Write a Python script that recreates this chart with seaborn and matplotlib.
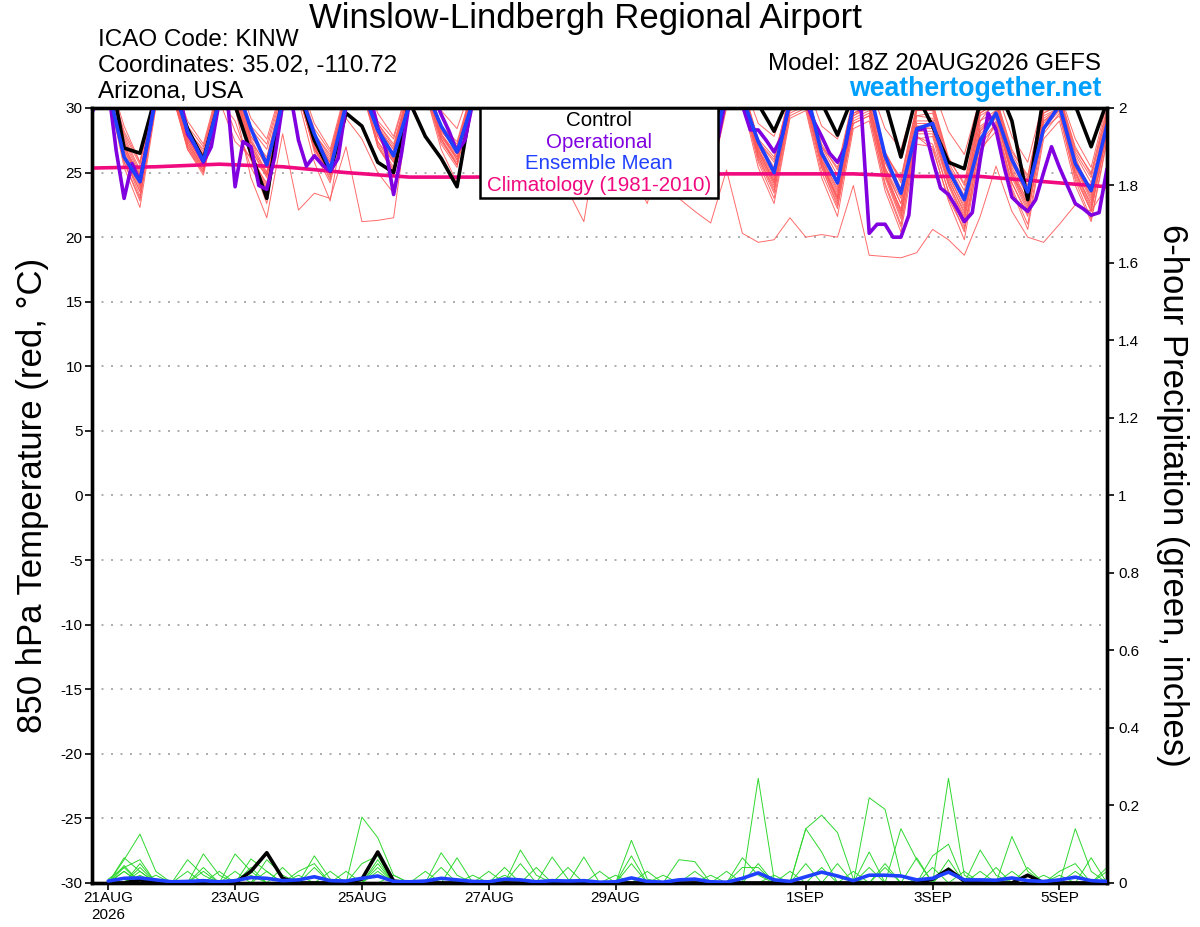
import numpy as np
import pandas as pd
import matplotlib
matplotlib.use("Agg")
import matplotlib.pyplot as plt
from matplotlib.patches import Rectangle
import seaborn as sns

# GEFS 18Z 20AUG2026 - KINW meteogram
# temperature at 6-hour steps: 18Z 20AUG ... 18Z 5SEP (65 values)
temp_mean = [30.2,
             31.5, 26.2, 24.3, 30.8,  32.0, 28.2, 25.9, 30.6,  32.0, 28.4, 25.6, 30.5,  31.5, 28.0, 25.2, 30.3,
             31.5, 28.3, 26.3, 30.3,  31.5, 28.6, 26.6, 30.5,  31.8, 28.4, 26.2, 30.6,  31.6, 28.0, 25.8, 30.4,
             31.8, 28.2, 26.2, 30.6,  31.6, 27.8, 26.0, 31.4,  30.8, 27.4, 25.0, 30.5,  31.5, 26.5, 24.2, 30.2,
             31.5, 26.3, 23.4, 28.4,  28.8, 25.2, 22.9, 27.5,  29.6, 26.0, 23.5, 28.4,  30.2, 25.7, 23.6, 28.7]

temp_control = [31.0,
                33.5, 26.9, 26.5, 31.0,  32.0, 28.4, 26.0, 30.5,  30.2, 26.5, 23.0, 31.0,  31.5, 27.5, 25.1, 29.6,
                28.6, 25.8, 25.0, 30.5,  27.8, 26.1, 23.9, 31.0,  32.0, 28.4, 26.4, 31.2,  32.0, 28.0, 26.0, 31.0,
                32.2, 28.6, 26.8, 31.4,  32.0, 28.2, 26.4, 32.0,  31.0, 30.3, 28.2, 31.0,  32.0, 30.4, 27.9, 31.0,
                32.0, 30.5, 26.2, 31.0,  28.6, 25.8, 25.3, 30.5,  32.0, 29.0, 22.9, 31.0,  32.0, 30.2, 27.0, 30.5]

# operational GFS at 3-hour steps (129 values)
temp_oper = [29.7,
             31.0, 31.6, 26.7, 23.0, 25.7, 24.3, 27.5, 31.0,
             32.0, 31.8, 31.0, 28.0, 27.0, 25.8, 27.0, 30.5,
             31.0, 23.9, 27.4, 27.0, 24.0, 23.7, 26.2, 30.3,
             31.0, 27.5, 25.5, 26.3, 25.6, 25.1, 26.1, 30.2,
             31.5, 31.8, 31.0, 28.5, 26.8, 23.3, 26.5, 30.5,
             31.8, 32.0, 31.0, 29.5, 28.2, 26.6, 27.5, 30.5,
             31.8, 32.0, 31.2, 29.0, 27.6, 26.0, 27.8, 31.0,
             32.0, 32.2, 31.0, 28.6, 27.2, 25.8, 27.6, 31.0,
             31.8, 32.0, 31.2, 29.0, 27.8, 26.4, 28.0, 31.2,
             32.0, 32.2, 31.0, 28.8, 27.4, 26.0, 27.8, 31.0,
             31.0, 30.2, 28.3, 28.3, 27.5, 26.6, 27.8, 30.5,
             31.0, 30.5, 29.0, 27.8, 26.5, 25.8, 27.0, 30.2,
             29.8, 20.3, 21.0, 21.0, 20.0, 20.0, 21.7, 28.3,
             28.4, 26.0, 23.8, 23.3, 22.3, 21.2, 21.9, 26.0,
             29.6, 28.3, 25.5, 23.1, 22.5, 22.0, 22.9, 25.0,
             27.0, 25.4, 24.0, 22.6, 22.2, 21.7, 21.9, 25.3]

# climatology, one value per day at 18Z
temp_clim = [25.35, 25.45, 25.65, 25.45, 25.0, 24.65, 24.65, 24.7, 24.75,
             24.8, 24.9, 24.9, 24.9, 24.7, 24.7, 24.3, 23.9]

# ensemble members
temp_members = [
    [31.0,
     32.1, 27.2, 24.0, 31.0,  32.0, 28.0, 26.2, 31.2,  32.3, 27.4, 25.0, 31.1,  31.8, 27.6, 25.4, 30.7,
     32.0, 28.4, 26.8, 31.3,  32.2, 28.6, 27.0, 31.5,  32.4, 28.2, 26.4, 31.2,  32.0, 28.0, 26.6, 31.0,
     32.2, 28.4, 26.8, 31.3,  32.0, 27.8, 26.0, 31.0,  31.6, 27.0, 25.2, 30.8,  31.4, 26.6, 24.0, 30.4,
     31.0, 25.8, 23.2, 29.4,  29.2, 25.4, 22.6, 29.0,  30.6, 26.0, 23.0, 30.2,  31.0, 26.2, 23.4, 29.2],
    [30.6,
     31.8, 26.4, 23.5, 30.6,  31.6, 27.6, 25.6, 30.8,  31.5, 26.8, 24.6, 30.5,  31.2, 27.0, 24.4, 30.4,
     31.8, 27.8, 25.8, 31.0,  31.6, 28.0, 26.2, 31.2,  32.0, 27.6, 25.8, 30.8,  31.6, 27.4, 25.6, 30.8,
     31.8, 27.6, 26.0, 31.0,  31.4, 27.0, 25.4, 30.6,  31.2, 26.8, 24.2, 30.0,  30.8, 26.0, 23.4, 30.2,
     30.4, 25.2, 22.0, 28.6,  28.4, 24.6, 21.8, 28.2,  29.8, 25.0, 22.4, 29.6,  30.4, 25.4, 22.8, 28.4],
    [31.5,
     32.6, 28.6, 25.8, 31.6,  32.5, 29.0, 27.2, 31.8,  32.6, 29.2, 27.6, 31.8,  32.4, 28.8, 26.8, 31.5,
     32.8, 29.6, 27.8, 32.0,  32.6, 29.8, 28.4, 32.0,  32.8, 29.4, 27.8, 31.8,  32.6, 29.2, 27.6, 31.8,
     32.8, 29.4, 27.8, 32.0,  32.4, 29.0, 27.6, 31.6,  32.2, 28.8, 27.8, 31.6,  32.0, 28.6, 27.6, 31.4,
     31.8, 28.4, 26.8, 31.0,  31.6, 28.2, 26.4, 30.8,  31.4, 27.8, 25.8, 30.6,  31.2, 27.6, 25.4, 30.4],
    [30.8,
     31.6, 25.8, 22.8, 30.4,  31.8, 27.2, 25.2, 30.6,  29.0, 25.4, 23.2, 30.2,  31.4, 27.4, 25.8, 30.8,
     31.6, 27.2, 25.2, 30.6,  31.8, 28.0, 26.4, 31.0,  32.0, 27.8, 26.0, 31.0,  31.8, 27.6, 25.8, 30.8,
     32.0, 27.8, 26.2, 31.2,  31.6, 27.2, 25.6, 30.8,  31.0, 26.2, 23.8, 29.8,  30.6, 25.6, 22.8, 29.2,
     29.8, 24.8, 21.6, 28.0,  28.0, 24.0, 21.2, 27.6,  29.4, 24.6, 22.0, 28.8,  30.2, 25.0, 22.2, 28.0],
    [30.4,
     31.4, 26.0, 23.6, 30.2,  31.2, 27.0, 25.0, 30.4,  30.0, 24.6, 21.5, 28.0,  22.1, 23.4, 23.0, 27.0,
     21.2, 21.3, 21.5, 30.4,  31.8, 27.6, 25.6, 31.0,  31.6, 27.4, 25.8, 30.8,  31.8, 27.8, 26.2, 31.0,
     31.6, 27.2, 25.4, 30.6,  31.4, 27.0, 25.8, 30.8,  31.2, 26.8, 24.8, 30.2,  31.0, 26.2, 23.6, 29.6,
     30.2, 25.4, 22.6, 28.8,  28.8, 24.8, 22.2, 28.4,  29.6, 25.2, 22.8, 29.2,  30.0, 25.6, 23.0, 28.8],
    [30.8,
     31.8, 27.0, 24.8, 31.0,  31.8, 27.8, 25.8, 31.0,  32.0, 27.6, 25.4, 31.0,  31.6, 27.6, 25.6, 30.8,
     32.0, 28.2, 26.4, 31.2,  31.8, 28.0, 26.0, 31.0,  31.6, 26.4, 24.0, 30.2,  29.8, 23.6, 21.2, 28.6,
     30.4, 25.0, 22.6, 27.4,  23.0, 22.0, 21.1, 25.2,  20.3, 19.6, 19.8, 21.5,  20.0, 20.2, 20.0, 24.0,
     18.6, 18.5, 18.4, 18.8,  20.6, 19.8, 18.6, 21.6,  25.5, 22.0, 20.0, 19.6,  21.0, 22.5, 22.0, 24.0],
    [31.2,
     32.0, 27.8, 25.2, 31.2,  32.2, 28.4, 26.6, 31.4,  28.2, 26.0, 24.2, 30.8,  31.8, 28.0, 26.2, 31.0,
     32.2, 28.8, 27.2, 31.6,  32.0, 28.4, 26.8, 31.4,  32.2, 28.0, 26.2, 31.2,  32.0, 27.8, 26.2, 31.0,
     32.2, 28.2, 26.6, 31.2,  31.8, 27.4, 25.6, 30.8,  31.4, 26.8, 24.6, 30.4,  31.0, 26.0, 23.8, 30.0,
     30.6, 25.4, 23.0, 29.4,  29.6, 25.0, 22.8, 29.4,  30.2, 25.6, 23.6, 29.8,  30.6, 25.8, 23.8, 29.0],
    [30.2,
     31.2, 25.4, 22.3, 30.0,  31.4, 26.8, 24.8, 30.4,  31.2, 26.4, 24.0, 30.2,  31.0, 26.8, 24.6, 30.4,
     31.4, 27.0, 25.0, 30.6,  31.2, 27.2, 25.4, 30.8,  31.4, 27.0, 25.2, 30.6,  31.2, 26.8, 25.0, 30.4,
     31.4, 27.0, 25.4, 30.6,  31.0, 26.4, 24.6, 30.2,  30.6, 25.8, 23.0, 29.4,  30.0, 25.0, 22.2, 28.8,
     29.4, 24.0, 20.8, 27.6,  27.8, 23.4, 20.4, 27.4,  28.8, 23.8, 21.0, 28.0,  29.6, 24.4, 21.4, 27.6],
    [31.0,
     32.4, 28.0, 25.6, 31.4,  32.2, 28.2, 26.4, 31.2,  31.6, 27.2, 24.8, 31.0,  32.0, 27.8, 25.8, 31.0,
     32.4, 28.6, 26.4, 31.4,  32.2, 28.4, 26.6, 31.4,  32.0, 28.0, 26.0, 31.2,  32.2, 28.2, 26.4, 31.4,
     32.0, 27.6, 25.8, 31.0,  31.6, 27.2, 25.6, 31.0,  31.8, 27.4, 26.0, 31.2,  31.4, 27.0, 25.4, 30.8,
     31.0, 26.4, 24.6, 30.2,  30.4, 26.0, 24.2, 30.0,  30.8, 26.6, 24.8, 30.4,  31.0, 26.8, 25.0, 30.0],
    [30.6,
     31.6, 26.8, 24.4, 30.8,  31.8, 27.6, 25.8, 31.0,  32.0, 27.8, 26.0, 31.2,  31.4, 27.2, 25.0, 30.6,
     31.8, 28.0, 26.6, 31.2,  32.0, 28.2, 26.8, 31.2,  31.8, 27.8, 26.2, 31.0,  31.6, 27.6, 26.0, 30.8,
     31.8, 27.8, 26.4, 31.0,  31.4, 27.4, 26.0, 30.8,  31.2, 26.6, 24.4, 30.2,  30.8, 25.8, 23.0, 29.4,
     30.2, 25.0, 22.0, 27.8,  26.8, 23.0, 20.6, 26.4,  29.0, 24.2, 21.6, 28.4,  29.8, 24.8, 22.0, 28.2],
    [31.4,
     32.2, 28.2, 25.8, 31.6,  32.4, 28.6, 27.0, 31.6,  32.2, 28.4, 26.8, 31.4,  32.0, 28.0, 26.4, 31.2,
     32.6, 29.0, 27.6, 31.8,  32.4, 28.6, 27.2, 31.6,  32.4, 28.4, 26.8, 31.4,  32.2, 28.2, 26.8, 31.4,
     32.4, 28.4, 27.0, 31.6,  32.0, 28.0, 26.6, 31.2,  31.8, 27.6, 26.2, 31.0,  31.6, 27.2, 25.2, 30.6,
     31.2, 26.6, 24.2, 30.0,  30.2, 25.8, 23.6, 29.8,  30.6, 26.4, 24.4, 30.2,  30.8, 26.6, 24.6, 29.6],
    [30.4,
     31.4, 26.2, 23.2, 30.4,  31.4, 27.0, 25.2, 30.6,  31.0, 26.2, 23.8, 30.0,  31.2, 27.0, 24.8, 30.4,
     31.6, 27.4, 25.4, 30.8,  31.4, 27.6, 25.8, 31.0,  31.2, 27.0, 24.6, 30.4,  31.4, 27.2, 25.4, 30.6,
     31.6, 27.4, 25.6, 30.8,  31.2, 26.8, 24.8, 30.4,  30.8, 26.0, 23.4, 29.8,  30.4, 25.4, 22.6, 29.0,
     29.6, 24.6, 21.4, 28.2,  28.2, 24.2, 21.6, 28.0,  29.2, 24.8, 22.6, 29.0,  29.8, 25.2, 22.4, 28.6],
    [30.8,
     31.8, 27.0, 24.6, 31.0,  31.6, 27.4, 25.4, 30.6,  27.4, 26.2, 24.8, 31.0,  31.6, 27.2, 25.2, 30.8,
     32.0, 28.0, 26.0, 31.2,  31.8, 27.8, 26.2, 31.0,  31.6, 27.6, 25.8, 30.8,  31.8, 27.8, 26.0, 31.0,
     31.6, 27.2, 25.6, 30.8,  31.4, 27.0, 25.2, 30.6,  31.0, 26.4, 24.0, 30.0,  30.6, 25.6, 23.0, 29.4,
     30.0, 24.8, 22.2, 28.6,  28.6, 24.4, 22.0, 28.6,  29.4, 25.0, 22.8, 29.4,  30.0, 25.4, 23.2, 28.8],
    [30.6,
     31.6, 26.6, 24.0, 30.6,  31.6, 27.4, 25.4, 30.8,  31.4, 26.4, 23.6, 30.4,  31.2, 26.6, 24.2, 29.2,
     27.6, 25.0, 23.4, 30.6,  31.6, 27.6, 25.6, 31.0,  31.4, 27.2, 24.8, 30.4,  31.2, 27.0, 25.0, 30.4,
     31.4, 27.4, 25.4, 30.6,  31.2, 27.0, 25.0, 30.4,  30.8, 26.2, 23.6, 29.6,  30.2, 25.4, 22.4, 28.8,
     29.4, 24.2, 21.0, 27.8,  27.2, 23.6, 20.8, 27.2,  28.6, 24.2, 21.8, 28.4,  29.4, 24.6, 22.0, 28.0],
    [31.2,
     32.2, 27.6, 25.0, 31.2,  32.0, 28.2, 26.8, 31.4,  32.4, 28.6, 27.2, 31.6,  32.0, 28.4, 26.6, 31.2,
     32.4, 28.8, 27.0, 31.6,  32.2, 28.4, 26.8, 31.4,  32.0, 28.2, 26.6, 31.2,  32.2, 28.4, 26.8, 31.4,
     32.0, 28.0, 26.4, 31.2,  31.8, 27.8, 26.2, 31.0,  31.6, 27.4, 25.4, 30.8,  31.2, 26.8, 24.4, 30.2,
     30.8, 26.2, 23.8, 29.8,  30.0, 25.6, 23.2, 29.6,  30.4, 26.2, 24.0, 30.0,  30.6, 26.4, 24.2, 29.4],
    [30.2,
     31.0, 25.8, 23.0, 30.2,  31.2, 26.8, 25.0, 30.4,  31.0, 26.0, 22.6, 29.8,  30.6, 25.8, 22.8, 30.0,
     31.4, 27.0, 25.2, 30.6,  31.2, 26.8, 24.2, 30.2,  31.0, 26.6, 24.4, 30.2,  31.2, 26.8, 24.6, 30.4,
     31.4, 27.0, 25.0, 30.6,  31.0, 26.6, 24.4, 30.0,  30.4, 25.4, 22.6, 29.2,  29.8, 24.6, 21.6, 28.4,
     29.0, 23.6, 20.4, 27.2,  27.0, 22.8, 19.8, 26.8,  28.2, 23.6, 20.6, 27.6,  29.0, 24.0, 21.2, 27.4],
    [31.0,
     32.0, 27.4, 24.8, 31.2,  32.0, 28.0, 26.0, 31.2,  31.8, 27.4, 25.6, 31.0,  31.6, 27.4, 25.8, 30.8,
     32.2, 28.2, 26.2, 31.4,  32.0, 28.2, 26.8, 31.4,  32.2, 28.4, 27.0, 31.4,  32.0, 28.0, 26.4, 31.2,
     32.2, 28.0, 26.6, 31.2,  31.8, 27.6, 26.0, 31.0,  31.4, 27.0, 25.0, 30.6,  31.2, 26.6, 24.2, 30.2,
     30.8, 25.8, 23.4, 29.8,  29.8, 25.4, 23.0, 29.6,  30.4, 25.8, 23.4, 30.0,  30.8, 26.0, 23.6, 29.4],
    [30.4,
     31.4, 26.4, 23.8, 30.6,  31.6, 27.2, 25.4, 30.8,  31.4, 26.8, 24.8, 30.6,  31.0, 26.8, 25.0, 30.4,
     31.6, 27.4, 25.8, 30.8,  31.4, 27.4, 25.6, 30.8,  31.6, 27.4, 25.8, 30.8,  31.4, 27.0, 24.6, 30.6,
     31.6, 27.4, 25.6, 30.8,  31.2, 26.8, 25.0, 30.4,  31.0, 26.4, 24.2, 30.0,  30.6, 25.8, 23.2, 29.6,
     30.0, 24.8, 21.8, 28.4,  28.4, 24.2, 21.4, 28.2,  29.4, 24.8, 22.2, 29.0,  30.0, 25.0, 22.6, 28.6],
    [31.0,
     32.0, 27.2, 24.4, 31.0,  32.2, 28.2, 26.4, 31.4,  32.0, 27.8, 26.2, 31.2,  31.8, 27.8, 26.0, 31.0,
     32.2, 28.6, 26.8, 31.4,  32.0, 28.6, 27.4, 31.6,  31.8, 28.0, 26.4, 31.2,  32.0, 28.2, 26.8, 31.2,
     32.2, 28.4, 27.0, 31.4,  31.8, 27.8, 26.4, 31.0,  31.6, 27.4, 25.8, 30.8,  31.4, 27.0, 24.8, 30.6,
     31.0, 26.6, 24.4, 30.2,  30.4, 26.2, 24.0, 30.0,  30.8, 26.8, 24.6, 30.4,  31.0, 27.0, 24.8, 29.8],
    [30.6,
     31.6, 26.8, 24.2, 30.8,  31.8, 27.6, 25.6, 31.0,  31.6, 27.0, 25.0, 30.8,  31.4, 27.0, 24.8, 30.6,
     31.8, 27.8, 26.0, 31.0,  31.6, 27.8, 26.0, 31.0,  31.4, 27.4, 25.4, 30.8,  31.6, 27.6, 25.8, 31.0,
     31.8, 27.6, 26.0, 31.0,  31.4, 27.2, 25.4, 30.6,  31.0, 26.6, 24.4, 30.2,  30.6, 25.8, 23.0, 29.6,
     30.2, 25.2, 22.6, 29.0,  29.0, 24.8, 22.4, 29.0,  29.8, 25.4, 23.2, 29.6,  30.2, 25.6, 23.4, 28.8],
]

# 6-hour precipitation (inches): 00Z 21AUG ... 18Z 5SEP (64 values)
pcp_mean = [0.005, 0.012, 0.013, 0.008, 0.003, 0.004, 0.006, 0.003, 0.006, 0.014, 0.012, 0.006, 0.008, 0.016, 0.006, 0.005,
            0.012, 0.018, 0.004, 0.003, 0.005, 0.012, 0.008, 0.004, 0.003, 0.010, 0.008, 0.003, 0.006, 0.005, 0.006, 0.002,
            0.003, 0.013, 0.004, 0.002, 0.008, 0.010, 0.003, 0.002, 0.012, 0.026, 0.008, 0.004, 0.016, 0.028, 0.018, 0.006,
            0.020, 0.020, 0.018, 0.008, 0.012, 0.028, 0.008, 0.008, 0.007, 0.013, 0.006, 0.004, 0.008, 0.015, 0.006, 0.004]

pcp_control = [0, 0, 0.008, 0, 0, 0, 0, 0, 0, 0.03, 0.078, 0.012, 0, 0, 0, 0,
               0.01, 0.08, 0.005, 0, 0, 0, 0, 0, 0, 0, 0, 0, 0, 0, 0, 0,
               0, 0, 0, 0, 0, 0, 0, 0, 0, 0, 0, 0, 0, 0, 0, 0,
               0, 0, 0, 0, 0.01, 0.035, 0.005, 0, 0, 0, 0.02, 0, 0, 0, 0, 0]

pcp_members = [
    [0, 0.06, 0.126, 0.03, 0, 0, 0, 0, 0, 0, 0, 0, 0, 0, 0, 0,
     0.17, 0.117, 0.02, 0, 0, 0, 0, 0, 0, 0, 0, 0, 0, 0, 0, 0,
     0, 0, 0, 0, 0, 0, 0, 0, 0, 0.27, 0.01, 0, 0, 0, 0, 0,
     0, 0, 0, 0, 0, 0.27, 0.02, 0, 0, 0, 0, 0, 0, 0, 0, 0],
    [0, 0.065, 0.03, 0, 0, 0, 0.075, 0.02, 0, 0, 0, 0, 0, 0, 0, 0,
     0, 0, 0, 0, 0, 0.078, 0.02, 0, 0, 0, 0, 0, 0, 0, 0, 0,
     0, 0, 0, 0, 0, 0, 0, 0, 0, 0, 0, 0, 0.14, 0.175, 0.13, 0.01,
     0, 0, 0, 0, 0, 0, 0, 0, 0, 0, 0, 0, 0, 0, 0, 0],
    [0.01, 0.04, 0, 0, 0, 0, 0, 0, 0.075, 0.03, 0, 0, 0, 0.07, 0.01, 0,
     0, 0, 0, 0, 0, 0, 0, 0, 0, 0, 0, 0, 0, 0, 0, 0,
     0, 0, 0, 0, 0, 0, 0, 0, 0, 0, 0, 0, 0, 0, 0, 0,
     0.22, 0.19, 0.02, 0, 0, 0, 0, 0, 0, 0, 0, 0, 0, 0, 0, 0],
    [0, 0, 0.05, 0, 0, 0.06, 0.02, 0, 0, 0, 0.06, 0.02, 0, 0, 0, 0,
     0, 0, 0, 0, 0, 0, 0, 0, 0, 0, 0.085, 0.02, 0, 0, 0, 0,
     0, 0.11, 0.01, 0, 0, 0, 0, 0, 0, 0, 0, 0, 0, 0, 0, 0,
     0, 0, 0.14, 0.06, 0, 0, 0, 0, 0, 0, 0, 0, 0, 0, 0, 0],
    [0, 0.045, 0, 0, 0, 0, 0, 0, 0, 0.062, 0.03, 0, 0, 0, 0, 0,
     0, 0.06, 0, 0, 0, 0, 0.065, 0, 0, 0, 0, 0, 0.067, 0.01, 0, 0,
     0, 0, 0, 0, 0, 0, 0, 0, 0.065, 0.02, 0, 0, 0, 0, 0, 0,
     0, 0, 0, 0, 0, 0, 0, 0.085, 0.02, 0, 0, 0, 0, 0, 0, 0],
    [0, 0, 0.04, 0, 0, 0, 0, 0, 0, 0, 0, 0, 0.03, 0.05, 0, 0,
     0, 0.04, 0, 0, 0, 0, 0, 0, 0, 0, 0, 0, 0, 0, 0.067, 0,
     0, 0, 0, 0, 0.06, 0.055, 0, 0, 0, 0, 0, 0, 0.14, 0.08, 0, 0,
     0, 0, 0, 0, 0, 0, 0, 0, 0, 0.12, 0.03, 0, 0, 0, 0, 0],
    [0, 0.03, 0, 0, 0, 0, 0.04, 0, 0, 0.04, 0, 0, 0, 0, 0, 0,
     0.05, 0.07, 0, 0, 0, 0, 0, 0, 0, 0.04, 0, 0, 0, 0, 0, 0,
     0, 0.07, 0, 0, 0, 0, 0, 0, 0, 0.05, 0, 0, 0, 0, 0, 0,
     0, 0.05, 0, 0, 0.07, 0.1, 0, 0, 0, 0, 0, 0, 0, 0.14, 0.03, 0],
    [0, 0, 0, 0.02, 0, 0, 0, 0, 0.03, 0, 0, 0, 0, 0.04, 0, 0,
     0, 0.05, 0, 0, 0, 0.04, 0, 0, 0, 0, 0.05, 0, 0, 0, 0, 0,
     0, 0.05, 0, 0, 0, 0, 0, 0, 0.04, 0.04, 0, 0, 0, 0, 0.05, 0,
     0.08, 0, 0, 0, 0, 0.06, 0, 0, 0, 0, 0, 0, 0.03, 0.05, 0, 0.04],
    [0, 0.04, 0.06, 0, 0, 0, 0, 0, 0, 0, 0.03, 0, 0, 0, 0.03, 0,
     0, 0, 0, 0, 0, 0, 0, 0.02, 0, 0, 0, 0, 0, 0.04, 0, 0,
     0, 0, 0, 0, 0, 0.03, 0, 0, 0, 0, 0, 0, 0, 0.04, 0, 0,
     0, 0, 0, 0.065, 0, 0, 0.03, 0, 0, 0, 0, 0.02, 0, 0, 0, 0.03],
    [0.005, 0, 0.02, 0, 0, 0, 0, 0.03, 0, 0, 0, 0.04, 0, 0, 0, 0,
     0, 0, 0.02, 0, 0, 0, 0, 0, 0.03, 0, 0, 0, 0, 0, 0, 0,
     0.02, 0, 0, 0, 0, 0, 0.02, 0, 0, 0, 0, 0.03, 0, 0, 0, 0.03,
     0, 0, 0, 0, 0.04, 0, 0, 0, 0.04, 0, 0, 0, 0, 0, 0.065, 0],
    [0, 0.03, 0, 0, 0, 0.03, 0, 0, 0, 0.02, 0, 0, 0, 0, 0, 0.03,
     0, 0, 0, 0, 0.03, 0, 0, 0, 0, 0, 0, 0.04, 0, 0, 0, 0,
     0, 0, 0.03, 0, 0, 0, 0, 0, 0, 0, 0.02, 0, 0, 0, 0, 0,
     0.04, 0, 0, 0, 0, 0, 0, 0.03, 0, 0, 0.04, 0, 0, 0.03, 0, 0],
    [0, 0, 0.03, 0, 0, 0, 0.03, 0, 0, 0, 0, 0, 0.02, 0, 0, 0,
     0, 0.03, 0, 0, 0, 0, 0, 0, 0, 0.02, 0, 0, 0, 0, 0, 0.03,
     0, 0, 0, 0.02, 0, 0, 0, 0.03, 0, 0, 0, 0, 0.05, 0, 0, 0,
     0, 0.04, 0, 0, 0, 0.04, 0, 0, 0, 0.03, 0, 0, 0.02, 0, 0, 0],
]

date_ticks = ["2026-08-21", "2026-08-23", "2026-08-25", "2026-08-27",
              "2026-08-29", "2026-09-01", "2026-09-03", "2026-09-05"]
date_labels = ["21AUG\n2026", "23AUG", "25AUG", "27AUG", "29AUG", "1SEP", "3SEP", "5SEP"]
pcp_ticks = [0, 0.2, 0.4, 0.6, 0.8, 1.0, 1.2, 1.4, 1.6, 1.8, 2.0]

assert all(len(m) == 65 for m in temp_members)
assert all(len(m) == 64 for m in pcp_members)

# time axes
t6 = pd.date_range("2026-08-20 18:00", periods=65, freq="6h")
t3 = pd.date_range("2026-08-20 18:00", periods=129, freq="3h")
tday = pd.date_range("2026-08-20 18:00", periods=17, freq="24h")
tp = t6[1:]

df_tm = pd.DataFrame({
    "time": np.tile(t6, len(temp_members)),
    "temp": np.concatenate(temp_members),
    "member": np.repeat(np.arange(len(temp_members)), len(t6)),
})
df_pm = pd.DataFrame({
    "time": np.tile(tp, len(pcp_members)),
    "pcp": np.concatenate(pcp_members),
    "member": np.repeat(np.arange(len(pcp_members)), len(tp)),
})

sns.set_theme(style="white")
plt.rcParams["font.family"] = ["Liberation Sans", "DejaVu Sans"]
plt.rcParams["axes.unicode_minus"] = False
plt.rcParams["text.color"] = "black"

RED = "#ff5a5a"
GREEN = "#2fd82f"
PURPLE = "#8000e0"
BLUE = "#2040ff"
MAGENTA = "#f0097f"

fig = plt.figure(figsize=(12, 9.27), dpi=100)
ax = fig.add_axes([0.077, 0.0475, 0.8455, 0.836])
ax2 = ax.twinx()

# temperature
sns.lineplot(data=df_tm, x="time", y="temp", units="member", estimator=None,
             color=RED, linewidth=0.7, alpha=0.9, ax=ax, legend=False, zorder=1)
sns.lineplot(x=tday, y=temp_clim, color=MAGENTA, linewidth=2.6, ax=ax, zorder=3)
sns.lineplot(x=t6, y=temp_control, color="black", linewidth=2.6, ax=ax, zorder=4)
sns.lineplot(x=t3, y=temp_oper, color=PURPLE, linewidth=2.6, ax=ax, zorder=5)
sns.lineplot(x=t6, y=temp_mean, color=BLUE, linewidth=2.6, ax=ax, zorder=6)

# precipitation
sns.lineplot(data=df_pm, x="time", y="pcp", units="member", estimator=None,
             color=GREEN, linewidth=0.7, ax=ax2, legend=False, zorder=1)
sns.lineplot(x=tp, y=pcp_control, color="black", linewidth=2.6, ax=ax2, zorder=3)
sns.lineplot(x=tp, y=pcp_mean, color=BLUE, linewidth=2.6, ax=ax2, zorder=4)

ax.set_xlim(t6[0], t6[-1])
ax.set_ylim(-30, 30)
ax.set_yticks(range(-30, 31, 5))
ax.set_xticks(pd.to_datetime(date_ticks))
ax.set_xticklabels(date_labels)
ax.set_xlabel("")
ax.set_ylabel("")
ax.grid(axis="y", color="#a0a0a0", linestyle=(0, (1.2, 4.5)), linewidth=1.2)
ax.grid(axis="x", visible=False)

ax2.set_ylim(0, 2)
ax2.set_yticks(pcp_ticks)
ax2.set_yticklabels([f"{v:g}" for v in pcp_ticks])
ax2.set_ylabel("")
ax2.grid(False)

for a in (ax, ax2):
    for s in a.spines.values():
        s.set_color("black")
        s.set_linewidth(2.4)
ax.tick_params(axis="y", left=True, direction="out", length=5, width=1.2,
               labelsize=11, pad=2, colors="black")
ax.tick_params(axis="x", bottom=True, direction="out", length=5, width=1.2,
               labelsize=11, pad=1, colors="black")
ax2.tick_params(axis="y", right=True, direction="out", length=5, width=1.2,
                labelsize=11, pad=3, colors="black")

# axis titles
fig.text(0.027, 0.4655, "850 hPa Temperature (red, °C)", rotation=90,
         ha="center", va="center", fontsize=25)
fig.text(0.977, 0.4655, "6-hour Precipitation (green, inches)", rotation=270,
         ha="center", va="center", fontsize=25)

# header
fig.text(0.488, 0.9805, "Winslow-Lindbergh Regional Airport", ha="center", va="center", fontsize=25)
fig.text(0.082, 0.957, "ICAO Code: KINW", ha="left", va="center", fontsize=17.5)
fig.text(0.082, 0.929, "Coordinates: 35.02, -110.72", ha="left", va="center", fontsize=17.5)
fig.text(0.082, 0.901, "Arizona, USA", ha="left", va="center", fontsize=17.5)
fig.text(0.9175, 0.931, "Model: 18Z 20AUG2026 GEFS", ha="right", va="center", fontsize=17.4)
fig.text(0.9175, 0.904, "weathertogether.net", ha="right", va="center", fontsize=19.2,
         fontweight="bold", color="#00a0ff")

# legend box
box = Rectangle((0.4, 0.7864), 0.1983, 0.0971, transform=fig.transFigure,
                facecolor="white", edgecolor="black", linewidth=1.8, zorder=20)
fig.add_artist(box)
leg_items = [("Control", "black", 0.8695), ("Operational", PURPLE, 0.8468),
             ("Ensemble Mean", BLUE, 0.8241), ("Climatology (1981-2010)", MAGENTA, 0.8004)]
for label, col, yy in leg_items:
    fig.text(0.4992, yy, label, ha="center", va="center", fontsize=14.8, color=col, zorder=21)

fig.savefig("out.png", dpi=100)
